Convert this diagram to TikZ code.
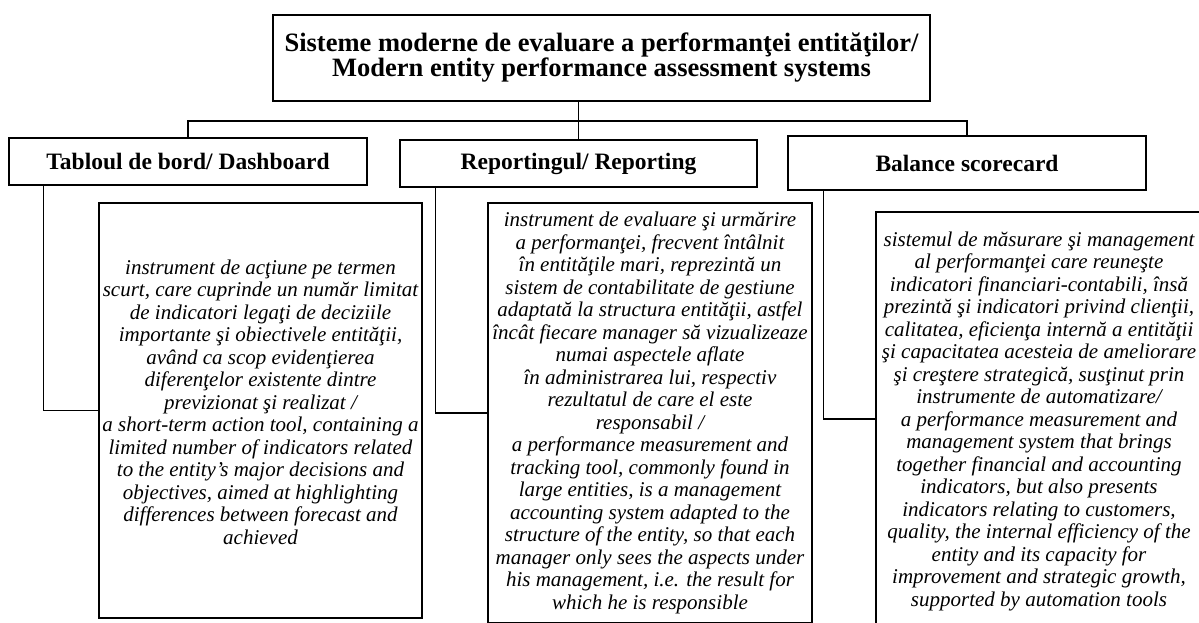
\documentclass[tikz,border=0pt]{standalone}
\usepackage{fontspec}
\setmainfont{Liberation Serif}
\begin{document}
\begin{tikzpicture}[x=1pt,y=-1pt,
  box/.style={draw=black,line width=1.2pt,rectangle,inner sep=0pt,align=center,fill=white},
  titlebox/.style={box,font=\bfseries\fontsize{26.5}{25}\selectfont},
  headbox/.style={box,font=\bfseries\fontsize{23.5}{26}\selectfont},
  descbox/.style={box,font=\itshape\fontsize{21}{22.5}\selectfont},
  desctext/.style={inner sep=0pt,align=center,font=\itshape\fontsize{21}{22.5}\selectfont},
  conn/.style={draw=black,line width=1.2pt}]
\useasboundingbox (0,0) rectangle (1199,622);
\clip (0,0) rectangle (1199,622);
\fill[white] (0,0) rectangle (1199,622);

\node[titlebox,minimum width=657pt,minimum height=86pt] (top) at (601.5,58)
  {Sisteme moderne de evaluare a performanţei entităţilor/\\Modern entity performance assessment systems};

\node[headbox,minimum width=358pt,minimum height=47pt] (dash) at (188,161.5) {Tabloul de bord/ Dashboard};
\node[headbox,minimum width=357pt,minimum height=47pt] (rep) at (578.5,163.5) {Reportingul/ Reporting};
\node[headbox,minimum width=358pt,minimum height=54pt] (bal) at (967,163) {Balance scorecard};

\coordinate (bus) at (0,121);
\draw[conn] (dash.north) -- (dash.north |- bus) -- (bal.north |- bus) -- (bal.north);
\draw[conn] (top.south -| rep.north) -- (rep.north);

\node[box,minimum width=323pt,minimum height=415pt] (d1) at (260.5,410.5) {};
\node[desctext] (d1text) at (260.5,402)
  {instrument de acţiune pe termen\\
   scurt, care cuprinde un număr limitat\\
   de indicatori legaţi de deciziile\\
   importante şi obiectivele entităţii,\\
   având ca scop evidenţierea\\
   diferenţelor existente dintre\\
   previzionat şi realizat /\\
   a short-term action tool, containing a\\
   limited number of indicators related\\
   to the entity's major decisions and\\
   objectives, aimed at highlighting\\
   differences between forecast and\\
   achieved};

\node[descbox,minimum width=324pt,minimum height=420pt] (d2) at (650,413)
  {instrument de evaluare şi urmărire\\
   a performanţei, frecvent întâlnit\\
   în entităţile mari, reprezintă un\\
   sistem de contabilitate de gestiune\\
   adaptată la structura entităţii, astfel\\
   încât fiecare manager să vizualizeaze\\
   numai aspectele aflate\\
   în administrarea lui, respectiv\\
   rezultatul de care el este\\
   responsabil /\\
   a performance measurement and\\
   tracking tool, commonly found in\\
   large entities, is a management\\
   accounting system adapted to the\\
   structure of the entity, so that each\\
   manager only sees the aspects under\\
   his management, i.e. the result for\\
   which he is responsible};

\node[descbox,minimum width=326pt,minimum height=418pt] (d3) at (1039,421)
  {sistemul de măsurare şi management\\
   al performanţei care reuneşte\\
   indicatori financiari-contabili, însă\\
   prezintă şi indicatori privind clienţii,\\
   calitatea, eficienţa internă a entităţii\\
   şi capacitatea acesteia de ameliorare\\
   şi creştere strategică, susţinut prin\\
   instrumente de automatizare/\\
   a performance measurement and\\
   management system that brings\\
   together financial and accounting\\
   indicators, but also presents\\
   indicators relating to customers,\\
   quality, the internal efficiency of the\\
   entity and its capacity for\\
   improvement and strategic growth,\\
   supported by automation tools};

\draw[conn] ([xshift=35pt]dash.south west) |- (d1.west);
\draw[conn] ([xshift=36pt]rep.south west) |- (d2.west);
\draw[conn] ([xshift=36pt]bal.south west) |- ([yshift=2pt]d3.west);
\end{tikzpicture}
\end{document}
